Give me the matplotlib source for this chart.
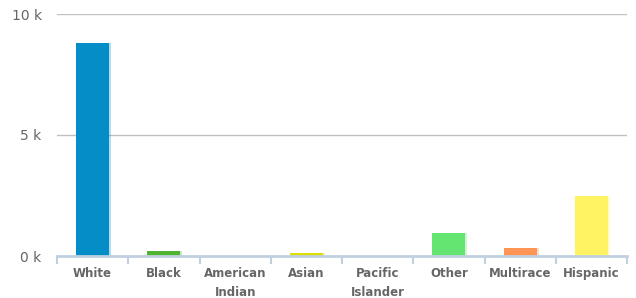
import matplotlib
matplotlib.use("Agg")
import matplotlib.pyplot as plt
import numpy as np

categories = ["White", "Black", "American\nIndian", "Asian", "Pacific\nIslander", "Other", "Multirace", "Hispanic"]
values = [8800, 200, 0, 130, 0, 940, 330, 2480]
colors = ["#058DC7", "#50B432", "#ED561B", "#DDDF00", "#24CBE5", "#64E572", "#FF9655", "#FFF263"]
yticks = [0, 5000, 10000]
ytick_labels = ["0 k", "5 k", "10 k"]

fig = plt.figure(figsize=(6.36, 2.98), dpi=100)
ax = fig.add_axes([57/636, 42/298, 570/636, 242/298])

x = np.arange(len(categories))
w = 0.46
# shadow
ax.bar(x + 0.03, values, width=w, color=colors, alpha=0.3, zorder=2, linewidth=0)
ax.bar(x, values, width=w, color=colors, zorder=3, linewidth=0)

ax.set_xlim(-0.5, len(categories) - 0.5)
ax.set_ylim(0, 10000)
ax.set_yticks(yticks)
ax.set_yticklabels(ytick_labels, color="#666666", fontsize=10)
for y in yticks[1:]:
    ax.axhline(y, color="#C0C0C0", linewidth=1, zorder=1)
ax.axhline(0, color="#C0D0E0", linewidth=2, zorder=4, clip_on=False)

for s in ax.spines.values():
    s.set_visible(False)
ax.tick_params(axis="y", length=0, pad=11)

# category boundary ticks
ax.set_xticks(np.arange(-0.5, len(categories)), minor=True)
ax.tick_params(axis="x", which="minor", length=6, width=1.5, color="#C0D0E0", direction="out")
ax.set_xticks(x)
ax.set_xticklabels(categories, fontsize=8.5, fontweight="bold", color="#666666", linespacing=1.55)
ax.tick_params(axis="x", which="major", length=0, pad=8)

fig.savefig("out.png", dpi=100)
